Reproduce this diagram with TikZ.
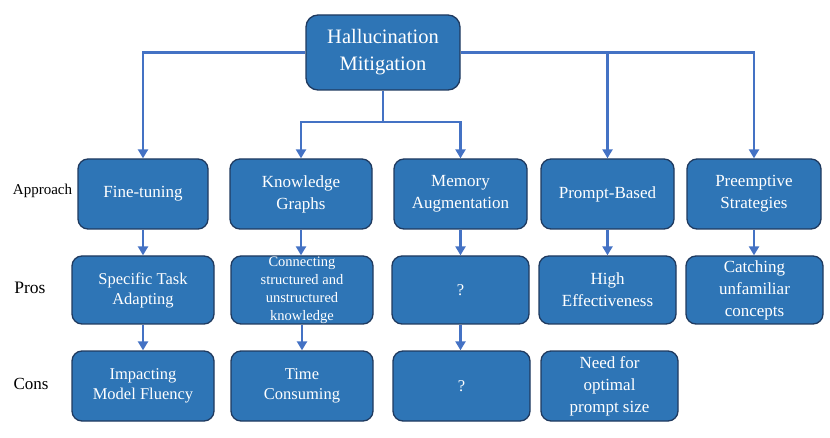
\documentclass[tikz,border=0pt]{standalone}
\usepackage{fontspec}
\setmainfont{Liberation Serif}
\usetikzlibrary{arrows.meta}
\definecolor{boxfill}{HTML}{2E75B6}
\definecolor{boxline}{HTML}{1F3A5F}
\definecolor{conn}{HTML}{4472C4}
\tikzset{
  box/.style={draw=boxline, fill=boxfill, line width=1.3pt, rounded corners=10pt,
    text=white, align=center, inner sep=0pt},
  conn/.style={draw=conn, line width=2.6pt, -{Triangle[width=10pt,length=9pt]}},
  lbl/.style={text=black, inner sep=0pt},
}
\begin{document}
\begin{tikzpicture}[x=1pt,y=-1pt]
\useasboundingbox (0,0) rectangle (830,438);
% root
\node[box, rounded corners=12pt, minimum width=154pt, minimum height=75pt,
  font=\fontsize{20.5}{27}\selectfont] (root) at (383,52.5) {Hallucination\\Mitigation};
% row 1
\begin{scope}[every node/.append style={font=\fontsize{17}{22}\selectfont}]
\node[box, minimum width=130pt, minimum height=70pt] (a1) at (143,194) {Fine-tuning};
\node[box, minimum width=142pt, minimum height=70pt] (a2) at (301,194) {Knowledge\\Graphs};
\node[box, minimum width=133pt, minimum height=70pt] (a3) at (460.5,194) {Memory\\Augmentation};
\node[box, minimum width=133pt, minimum height=70pt] (a4) at (607.5,194) {Prompt-Based};
\node[box, minimum width=134pt, minimum height=70pt] (a5) at (754,194) {Preemptive\\Strategies};
\end{scope}
% row 2
\begin{scope}[every node/.append style={font=\fontsize{16.5}{20}\selectfont}]
\node[box, minimum width=142pt, minimum height=68pt] (p1) at (143,290) {Specific Task\\Adapting};
\node[box, minimum width=142pt, minimum height=68pt, font=\fontsize{14.5}{18}\selectfont] (p2) at (302,290) {Connecting\\structured and\\unstructured\\knowledge};
\node[box, minimum width=137pt, minimum height=68pt] (p3) at (460.5,290) {?};
\node[box, minimum width=137pt, minimum height=68pt, font=\fontsize{17}{22}\selectfont] (p4) at (607.5,290) {High\\Effectiveness};
\node[box, minimum width=137pt, minimum height=68pt, font=\fontsize{17}{22}\selectfont] (p5) at (754.5,290) {Catching\\unfamiliar\\concepts};
\end{scope}
% row 3
\begin{scope}[every node/.append style={font=\fontsize{16.5}{20}\selectfont}]
\node[box, minimum width=142pt, minimum height=70pt] (c1) at (143,386) {Impacting\\Model Fluency};
\node[box, minimum width=142pt, minimum height=70pt] (c2) at (302,386) {Time\\Consuming};
\node[box, minimum width=137pt, minimum height=70pt] (c3) at (461.5,386) {?};
\node[box, minimum width=137pt, minimum height=70pt, font=\fontsize{17}{22}\selectfont] (c4) at (609.5,386) {Need for\\optimal\\prompt size};
\end{scope}
% labels
\node[lbl, font=\fontsize{15}{17}\selectfont] (lA) at (42.5,191) {Approach};
\node[lbl, font=\fontsize{17.5}{19}\selectfont] (lP) at (30,288) {Pros};
\node[lbl, font=\fontsize{17}{19}\selectfont] (lC) at (31,384) {Cons};
% connectors
\coordinate (mid) at (383,122);
\draw[conn] (root.west) -| (a1.north);
\draw[conn] (root.east) -| (a4.north);
\draw[conn] (root.east) -| (a5.north);
\draw[conn] (root.south) -- (mid) -| (a2.north);
\draw[conn] (mid) -| (a3.north);
\draw[conn] (a1.south) -- (a1.south |- p1.north);
\draw[conn] (a2.south) -- (a2.south |- p2.north);
\draw[conn] (a3.south) -- (a3.south |- p3.north);
\draw[conn] (a4.south) -- (a4.south |- p4.north);
\draw[conn] (a5.south) -- (a5.south |- p5.north);
\draw[conn] (p1.south) -- (p1.south |- c1.north);
\draw[conn] (p2.south) -- (p2.south |- c2.north);
\draw[conn] (p3.south) -- (p3.south |- c3.north);
\end{tikzpicture}
\end{document}
